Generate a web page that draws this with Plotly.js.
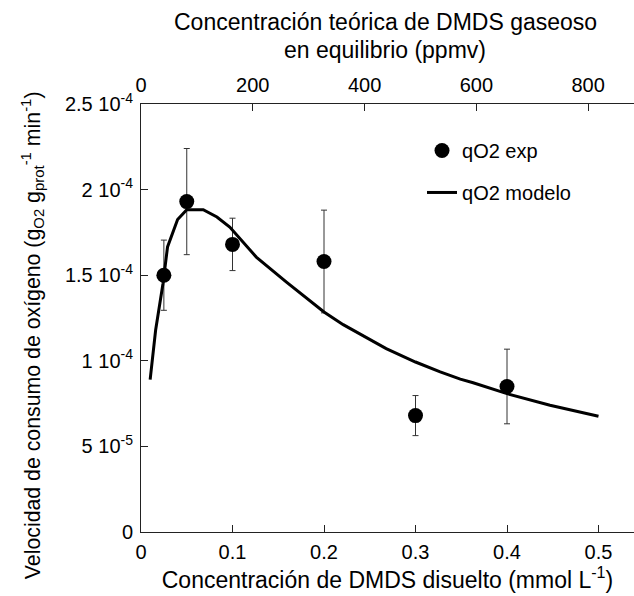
<!DOCTYPE html>
<html>
<head>
<meta charset="utf-8">
<script src="https://cdn.plot.ly/plotly-3.0.1.min.js"></script>
<style>
html,body{margin:0;padding:0;background:#fff;}
#chart{width:634px;height:596px;}
</style>
</head>
<body>
<div id="chart"></div>
<script>
// Experimental data
const expX = [0.025, 0.05, 0.1, 0.2, 0.3, 0.4];
const expY = [1.50e-4, 1.93e-4, 1.68e-4, 1.58e-4, 0.68e-4, 0.85e-4];
const expErr = [0.205e-4, 0.31e-4, 0.153e-4, 0.30e-4, 0.117e-4, 0.218e-4];

// Model curve
const modelX = [0.01, 0.016, 0.024, 0.029, 0.04, 0.05, 0.068, 0.083, 0.097, 0.126, 0.159, 0.2, 0.221, 0.268, 0.3, 0.327, 0.349, 0.363, 0.4, 0.447, 0.5];
const modelY = [0.89e-4, 1.18e-4, 1.45e-4, 1.665e-4, 1.825e-4, 1.883e-4, 1.883e-4, 1.84e-4, 1.781e-4, 1.606e-4, 1.46e-4, 1.285e-4, 1.211e-4, 1.071e-4, 0.993e-4, 0.935e-4, 0.893e-4, 0.872e-4, 0.808e-4, 0.740e-4, 0.676e-4];

// Axis ticks
const yTickVals = [0, 5e-5, 1e-4, 1.5e-4, 2e-4, 2.5e-4];
const yTickText = ["0", "5 10<sup>-5</sup>", "1 10<sup>-4</sup>", "1.5 10<sup>-4</sup>", "2 10<sup>-4</sup>", "2.5 10<sup>-4</sup>"];
const xTickVals = [0, 0.1, 0.2, 0.3, 0.4, 0.5];
const xTickText = ["0", "0.1", "0.2", "0.3", "0.4", "0.5"];
const topTickVals = [0, 200, 400, 600, 800];
const topTickText = ["0", "200", "400", "600", "800"];

// Titles
const topTitleLines = ["Concentración teórica de DMDS gaseoso", "en equilibrio (ppmv)"];
const xTitle = "Concentración de DMDS disuelto (mmol L<sup>-1</sup>)";
const yTitle = "Velocidad de consumo de oxígeno (g<sub>O2</sub> g<sub>prot</sub><sup>-1</sup> min<sup>-1</sup>)";

const FONT = "Liberation Sans, Arial, sans-serif";

const traces = [
  {
    x: expX, y: expY, type: 'scatter', mode: 'markers', name: 'qO2 exp',
    legendgroup: 'a',
    marker: {color: '#000', size: 15},
    error_y: {type: 'data', array: expErr, visible: true, color: '#333', thickness: 1, width: 3}
  },
  {
    x: modelX, y: modelY, type: 'scatter', mode: 'lines', name: 'qO2 modelo',
    legendgroup: 'b',
    line: {color: '#000', width: 3}
  },
  {
    x: [0], y: [0], xaxis: 'x2', type: 'scatter', mode: 'markers',
    marker: {opacity: 0}, showlegend: false, hoverinfo: 'skip'
  }
];

const axisCommon = {
  showgrid: false, zeroline: false, showline: true, linecolor: '#222', linewidth: 1,
  ticks: 'inside', ticklen: 7, tickwidth: 1, tickcolor: '#222',
  tickfont: {family: FONT, size: 20, color: '#000'}
};

const layout = {
  width: 634, height: 596,
  margin: {l: 141, r: 0, t: 104, b: 64, pad: 0},
  paper_bgcolor: '#fff', plot_bgcolor: '#fff',
  font: {family: FONT, color: '#000', size: 20},
  showlegend: true,
  legend: {
    x: 0.57, y: 0.937, xanchor: 'left', yanchor: 'top',
    bgcolor: 'rgba(0,0,0,0)', borderwidth: 0,
    font: {family: FONT, size: 20, color: '#000'},
    traceorder: 'grouped', tracegroupgap: 13
  },
  xaxis: Object.assign({}, axisCommon, {
    range: [0, 0.5388], tickvals: xTickVals, ticktext: xTickText,
    ticklabelstandoff: 2,
    title: {text: xTitle, font: {family: FONT, size: 23, color: '#000'}, standoff: 6}
  }),
  xaxis2: Object.assign({}, axisCommon, {
    overlaying: 'x', side: 'top', anchor: 'y',
    range: [0, 882], tickvals: topTickVals, ticktext: topTickText,
    ticklabelstandoff: 3
  }),
  yaxis: Object.assign({}, axisCommon, {
    range: [0, 2.5e-4], tickvals: yTickVals, ticktext: yTickText,
    ticklabelstandoff: 3
  }),
  annotations: [
    {text: topTitleLines[0], xref: 'paper', yref: 'paper', x: 0.495, y: 1.1917,
     xanchor: 'center', yanchor: 'middle', showarrow: false,
     font: {family: FONT, size: 23, color: '#000'}},
    {text: topTitleLines[1], xref: 'paper', yref: 'paper', x: 0.495, y: 1.1263,
     xanchor: 'center', yanchor: 'middle', showarrow: false,
     font: {family: FONT, size: 23, color: '#000'}},
    {text: yTitle, xref: 'paper', yref: 'paper', x: -0.221, y: 0.46,
     xanchor: 'center', yanchor: 'middle', textangle: -90, showarrow: false,
     font: {family: FONT, size: 21.3, color: '#000'}}
  ]
};

Plotly.newPlot('chart', traces, layout, {displayModeBar: false, staticPlot: true});
</script>
</body>
</html>
